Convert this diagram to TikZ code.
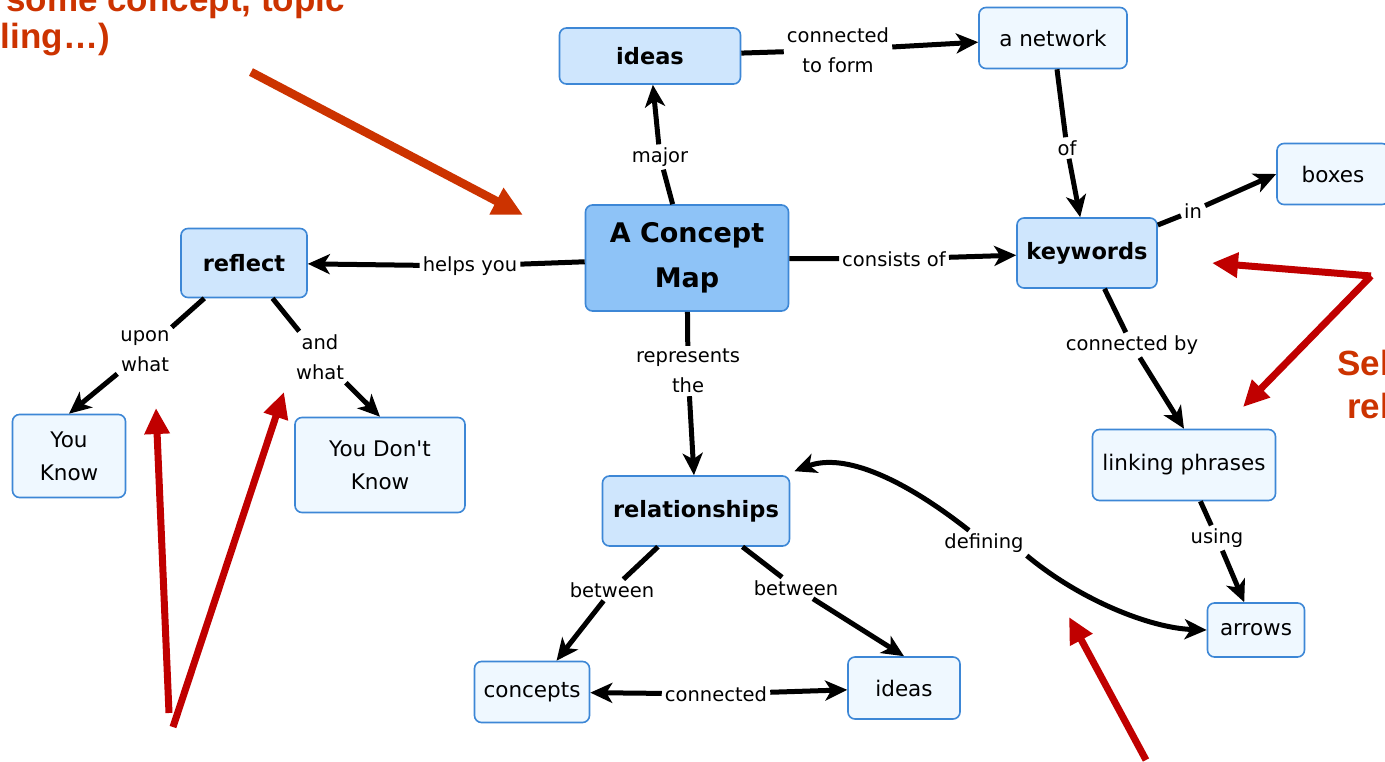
\documentclass[tikz,border=0pt]{standalone}
\usepackage{fontspec}
\setmainfont{DejaVu Sans}[Ligatures=TeXOff]
\newfontfamily\notefont{Liberation Sans}
\usetikzlibrary{arrows.meta}
\definecolor{mapline}{HTML}{3D87D6}
\definecolor{mapfill}{HTML}{CFE6FD}
\definecolor{mappale}{HTML}{EFF8FF}
\definecolor{mapmain}{HTML}{8EC3F7}
\definecolor{noteorange}{HTML}{CC3300}
\definecolor{notered}{HTML}{C00000}
\tikzset{
  concept/.style={draw=mapline,line width=1.6pt,rounded corners=7pt,fill=mappale,align=center,inner sep=2pt,font=\fontsize{21.5}{33}\selectfont},
  keyconcept/.style={concept,fill=mapfill,font=\fontsize{22.5}{33}\selectfont\bfseries},
  mainconcept/.style={concept,fill=mapmain,font=\fontsize{27}{45}\selectfont\bfseries},
  linkword/.style={fill=white,inner sep=3pt,align=center,font=\fontsize{19.5}{30}\selectfont},
  link/.style={line width=5pt,black},
  linkto/.style={link,-{Stealth[length=22pt,width=20pt,inset=6pt]}},
  note/.style={line width=7pt,notered,-{Triangle[length=26pt,width=24pt]}},
  notetext/.style={inner sep=0pt,text=noteorange,font=\notefont\fontsize{35}{40}\selectfont\bfseries}
}
\begin{document}
\begin{tikzpicture}[x=1pt,y=-1pt]
\useasboundingbox (0,0) rectangle (1385,761);
\clip (0,0) rectangle (1385,761);
\fill[white] (0,0) rectangle (1385,761);

\node[keyconcept,minimum width=181pt,minimum height=56pt] (ideas) at (650,56) {ideas};
\node[concept,minimum width=148pt,minimum height=61pt] (network) at (1053,38) {a network};
\node[mainconcept,minimum width=203pt,minimum height=106pt] (map) at (687,258) {A Concept\\Map};
\node[keyconcept,minimum width=140pt,minimum height=70pt] (keywords) at (1087,253) {keywords};
\node[concept,minimum width=112pt,minimum height=61pt] (boxes) at (1333,174) {boxes};
\node[keyconcept,minimum width=126pt,minimum height=69pt] (reflect) at (244,263) {reflect};
\node[concept,minimum width=113pt,minimum height=83pt] (know) at (69,456) {You\\Know};
\node[concept,minimum width=170pt,minimum height=95pt] (dontknow) at (380,465) {You Don't\\Know};
\node[keyconcept,minimum width=187pt,minimum height=70pt] (relations) at (696,511) {relationships};
\node[concept,minimum width=183pt,minimum height=71pt] (phrases) at (1184,465) {linking phrases};
\node[concept,minimum width=97pt,minimum height=54pt] (arrows) at (1256,630) {arrows};
\node[concept,minimum width=115pt,minimum height=61pt] (concepts) at (532,692) {concepts};
\node[concept,minimum width=112pt,minimum height=62pt] (ideasb) at (904,688) {ideas};

\node[linkword] (major) at (660,157) {major};
\node[linkword] (toform) at (838,50) {connected\\to form};
\node[linkword] (of) at (1067,148) {of};
\node[linkword] (in) at (1193,211) {in};
\node[linkword] (consists) at (894,259) {consists of};
\node[linkword] (helps) at (470,266) {helps you};
\node[linkword] (upon) at (145,351) {upon\\what};
\node[linkword] (andwhat) at (320,357) {and\\what};
\node[linkword] (represents) at (688,371) {represents\\the};
\node[linkword] (by) at (1132,345) {connected by};
\node[linkword] (using) at (1217,538) {using};
\node[linkword] (betweenl) at (612,590) {between};
\node[linkword] (betweenr) at (796,588) {between};
\node[linkword] (connected) at (716,694) {connected};
\node[linkword] (defining) at (984,543) {defining};

\draw[link] (map) -- (major); \draw[linkto] (major) -- (ideas);
\draw[link] (ideas) -- (toform); \draw[linkto] (toform) -- (network);
\draw[link] (network) -- (of); \draw[linkto] (of) -- (keywords);
\draw[link] (keywords) -- (in); \draw[linkto] (in) -- (boxes.west);
\draw[link] (map) -- (consists); \draw[linkto] (consists) -- (keywords);
\draw[link] (map) -- (helps); \draw[linkto] (helps) -- (reflect);
\draw[link] (reflect) -- (upon); \draw[linkto] (upon) -- (know.north);
\draw[link] (reflect) -- (andwhat); \draw[linkto] (andwhat) -- (dontknow.north);
\draw[link] (map) -- (represents); \draw[linkto] (represents) -- (relations);
\draw[link] (keywords) -- (by); \draw[linkto] (by) -- (phrases.north);
\draw[link] (phrases) -- (using); \draw[linkto] (using) -- (arrows);
\draw[link] (relations) -- (betweenl); \draw[linkto] (betweenl) -- (concepts);
\draw[link] (relations) -- (betweenr); \draw[linkto] (betweenr) -- (ideasb.north);
\draw[linkto] (connected) -- (concepts); \draw[linkto] (connected) -- (ideasb);
\draw[linkto] (defining.140) .. controls (905,480) and (845,452) .. ([xshift=4pt,yshift=4pt]relations.north east);
\draw[linkto] (defining.south east) .. controls (1080,600) and (1150,628) .. (arrows.west);

\node[notetext,anchor=base east] (topic) at (345,11) {some concept, topic};
\node[notetext,anchor=base east] (learning) at (110,48) {ling…)};
\node[notetext,anchor=base west] (select) at (1337,375) {Sel};
\node[notetext,anchor=base west] (rel) at (1347,418) {rel};

\coordinate (maptail) at (251,72);
\coordinate (maptip) at (523,215);
\coordinate (elbow) at (1371,276);
\coordinate (keytip) at (1212,263);
\coordinate (phrasetip) at (1243,407);
\coordinate (forkl) at (169,713);
\coordinate (forkr) at (173,727);
\coordinate (upontip) at (156,408);
\coordinate (andtip) at (284,392);
\coordinate (definetail) at (1146,760);
\coordinate (definetip) at (1069,617);
\draw[note,noteorange,line width=8.5pt,-{Triangle[length=30pt,width=28pt]}] (maptail) -- (maptip);
\draw[note] (elbow) -- (keytip);
\draw[note] (elbow) -- (phrasetip);
\draw[note] (forkl) -- (upontip);
\draw[note] (forkr) -- (andtip);
\draw[note] (definetail) -- (definetip);
\end{tikzpicture}
\end{document}
